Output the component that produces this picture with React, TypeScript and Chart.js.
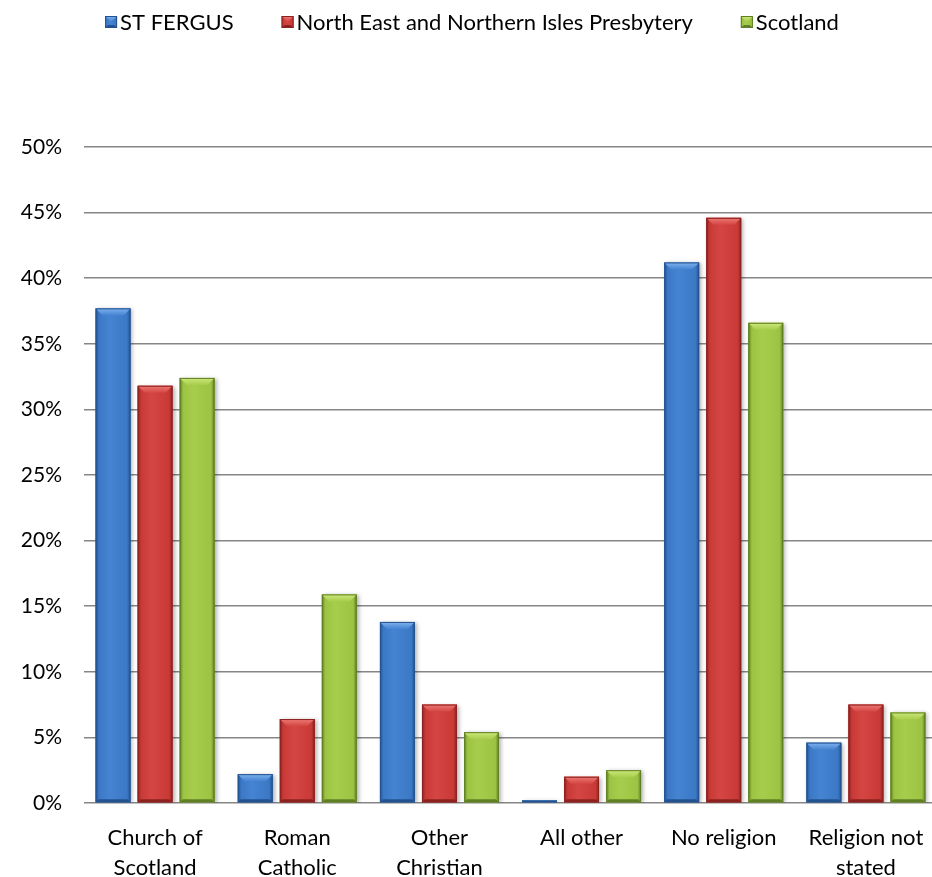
import React, { useEffect, useRef } from 'react';
import { Chart, registerables } from 'chart.js';
Chart.register(...registerables);

const categories: string[][] = [
  ['Church of', 'Scotland'],
  ['Roman', 'Catholic'],
  ['Other', 'Christian'],
  ['All other'],
  ['No religion'],
  ['Religion not', 'stated'],
];
const seriesNames = ['ST FERGUS', 'North East and Northern Isles Presbytery', 'Scotland'];
const stFergus = [37.7, 2.2, 13.8, 0.2, 41.2, 4.6];
const presbytery = [31.8, 6.4, 7.5, 2.0, 44.6, 7.5];
const scotland = [32.4, 15.9, 5.4, 2.5, 36.6, 6.9];
const yMin = 0;
const yMax = 50;
const yStep = 5;

const palettes = [
  { base: '#3b78c6', light: '#4584d2', dark: '#24528f', top: '#7fb2ee' },
  { base: '#c93a37', light: '#d44643', dark: '#8c2220', top: '#ee7a76' },
  { base: '#9cc342', light: '#a8cd4e', dark: '#617f25', top: '#cde87a' },
];

const FONT = 'Lato, "Open Sans", sans-serif';

function drawBevelBox(ctx: CanvasRenderingContext2D, left: number, top: number, right: number, bottom: number, p: any) {
  const w = right - left;
  const h = bottom - top;
  if (w <= 0 || h <= 0) return;
  const g = ctx.createLinearGradient(left, 0, right, 0);
  g.addColorStop(0, p.dark);
  g.addColorStop(0.1, p.base);
  g.addColorStop(0.4, p.light);
  g.addColorStop(0.9, p.base);
  g.addColorStop(1, p.dark);
  ctx.fillStyle = g;
  ctx.fillRect(left, top, w, h);
  const b = Math.min(7, h / 2, w / 2);
  // top bevel
  ctx.beginPath();
  ctx.moveTo(left, top);
  ctx.lineTo(right, top);
  ctx.lineTo(right - b, top + b);
  ctx.lineTo(left + b, top + b);
  ctx.closePath();
  const gt = ctx.createLinearGradient(0, top, 0, top + b);
  gt.addColorStop(0, p.top);
  gt.addColorStop(1, p.light);
  ctx.fillStyle = gt;
  ctx.fill();
  // bottom bevel
  const bb = Math.min(3, h / 3);
  ctx.beginPath();
  ctx.moveTo(left, bottom);
  ctx.lineTo(right, bottom);
  ctx.lineTo(right - bb, bottom - bb);
  ctx.lineTo(left + bb, bottom - bb);
  ctx.closePath();
  ctx.fillStyle = p.dark;
  ctx.fill();
  ctx.strokeStyle = p.dark;
  ctx.lineWidth = 1;
  ctx.strokeRect(left + 0.5, top + 0.5, w - 1, h - 1);
}

const barStylePlugin = {
  id: 'barStyle',
  beforeDatasetsDraw(chart: any) {
    const ctx = chart.ctx;
    ctx.save();
    ctx.shadowColor = 'rgba(0,0,0,0.3)';
    ctx.shadowBlur = 4;
    ctx.shadowOffsetX = 2;
    ctx.shadowOffsetY = 1;
  },
  afterDatasetsDraw(chart: any) {
    const ctx = chart.ctx;
    ctx.restore();
    chart.data.datasets.forEach((ds: any, di: number) => {
      const meta = chart.getDatasetMeta(di);
      meta.data.forEach((el: any) => {
        const { x, y, base, width } = el.getProps(['x', 'y', 'base', 'width'], true);
        drawBevelBox(ctx, x - width / 2, Math.min(y, base), x + width / 2, Math.max(y, base), palettes[di]);
      });
    });
  },
};

const legendPlugin = {
  id: 'customLegend',
  afterDraw(chart: any) {
    const ctx = chart.ctx;
    ctx.save();
    ctx.font = `22px ${FONT}`;
    ctx.textBaseline = 'middle';
    ctx.fillStyle = '#000';
    const box = 12;
    const gap = 3;
    const itemGap = 48;
    const widths = chart.data.datasets.map((d: any) => box + gap + ctx.measureText(d.label).width);
    const total = widths.reduce((a: number, b: number) => a + b, 0) + itemGap * (widths.length - 1);
    let x = 472 - total / 2;
    const cy = 22;
    chart.data.datasets.forEach((d: any, i: number) => {
      drawBevelBox(ctx, x, cy - box / 2, x + box, cy + box / 2, { ...palettes[i] });
      ctx.fillStyle = '#000';
      ctx.fillText(d.label, x + box + gap, cy + 1);
      x += widths[i] + itemGap;
    });
    ctx.restore();
  },
};

export default function App() {
  const ref = useRef<HTMLCanvasElement | null>(null);
  useEffect(() => {
    if (!ref.current) return;
    const chart = new Chart(ref.current, {
      type: 'bar',
      data: {
        labels: categories,
        datasets: [
          { label: seriesNames[0], data: stFergus, backgroundColor: palettes[0].base, borderWidth: 0 },
          { label: seriesNames[1], data: presbytery, backgroundColor: palettes[1].base, borderWidth: 0 },
          { label: seriesNames[2], data: scotland, backgroundColor: palettes[2].base, borderWidth: 0 },
        ],
      },
      options: {
        animation: false,
        responsive: false,
        devicePixelRatio: 1,
        layout: { padding: { top: 147, right: 3, left: 0, bottom: 0 } },
        datasets: { bar: { barPercentage: 0.83, categoryPercentage: 0.887 } },
        plugins: { legend: { display: false }, tooltip: { enabled: false } },
        scales: {
          x: {
            grid: { display: false },
            border: { display: false },
            ticks: {
              color: '#000',
              font: { family: FONT, size: 22, lineHeight: 1.36 },
              padding: 12,
              maxRotation: 0,
              autoSkip: false,
            },
            afterFit: (s: any) => { s.height = 74; },
          },
          y: {
            min: yMin,
            max: yMax,
            grid: { color: '#868686', lineWidth: 1.5, drawTicks: false },
            border: { display: false },
            ticks: {
              stepSize: yStep,
              color: '#000',
              font: { family: FONT, size: 21 },
              padding: 22,
              callback: (v: any) => v + '%',
            },
            afterFit: (s: any) => { s.width = 84; },
          },
        },
      },
      plugins: [barStylePlugin, legendPlugin],
    });
    return () => chart.destroy();
  }, []);
  return (
    <div style={{ position: 'absolute', left: 0, top: 0, width: 932, height: 877, overflow: 'hidden', background: '#fff' }}>
      <canvas ref={ref} width={940} height={877} style={{ width: 940, height: 877, display: 'block' }} />
    </div>
  );
}
